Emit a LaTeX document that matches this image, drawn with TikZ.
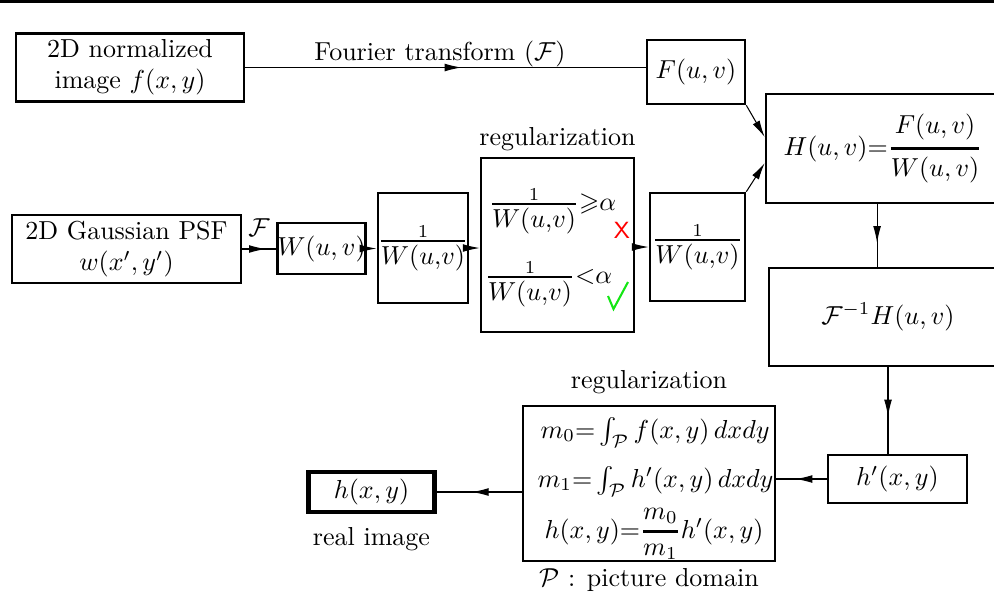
\documentclass[tikz,border=0pt]{standalone}
\usepackage{amsmath,amssymb}
\usetikzlibrary{arrows.meta,decorations.markings,calc}
\definecolor{okgreen}{RGB}{20,230,20}
\definecolor{badred}{RGB}{255,0,0}
\newdimen\px \px=0.3846pt
\newcommand{\invW}{\genfrac{}{}{0.9pt}{1}{1}{\textstyle W(u{,}v)}}
\newcommand{\bfr}[2]{\genfrac{}{}{0.9pt}{0}{#1}{#2}}
\begin{document}
\begin{tikzpicture}[x=0.3846pt,y=-0.3846pt,
  box/.style 2 args={draw,line width=1pt,inner sep=0pt,minimum width=#1\px,minimum height=#2\px},
  conn/.style={draw,line width=0.4pt},
  tipend/.style={-{Latex[length=6.5pt,width=3pt]}},
  midarrow/.style={postaction={decorate,decoration={markings,mark=at position #1 with {\arrow{Latex[length=6.5pt,width=3pt]}}}}},
  midarrow/.default=0.55,
  lab/.style={inner sep=1pt}]
\useasboundingbox (0,0) rectangle (994,597);
\clip (0,0) rectangle (994,597);
\fill (0,0) rectangle (994,3);

% top row
\node[box={228}{68},align=center] (norm) at (130,67.5) {2D normalized\\image $f(x,y)$};
\node[box={98}{64}] (F) at (696,72) {$F(u,v)$};
\node[box={234}{109}] (H) at (883,148.5) {$H(u,v){=}\bfr{F(u,v)}{W(u,v)}$};

% middle row
\node[box={229}{68},align=center] (gauss) at (126.5,249) {2D Gaussian PSF\\$w(x^{\prime},y^{\prime})$};
\node[box={87}{51}] (W) at (321.5,248.5) {$W(u,v)$};
\node[box={84}{110}] (inv1) at (423,248) {$\invW$};
\node[box={153}{174}] (reg) at (557.5,245) {};
\node[lab,anchor=south] (reglab) at ([yshift=1pt]reg.north) {regularization};
\node[anchor=base] (c1) at (552.5,210.5) {$\invW{\geqslant}\alpha$};
\node[anchor=base] (c2) at (548.5,283.5) {$\invW{<}\alpha$};
\node[inner sep=0pt,text=badred,font=\fontsize{9}{9}\selectfont\sffamily] (xmark) at (622,230) {X};
\draw[okgreen,line width=0.8pt,line join=miter] (608,296) -- (613.5,309) -- (628,282);
\node[box={95}{108}] (inv2) at (697.5,247) {$\invW$};
\node[box={238}{98}] (Finv) at (888,317) {$\mathcal{F}^{-1}H(u,v)$};

% bottom row
\node[box={139}{48}] (hp) at (897.5,479) {$h'(x,y)$};
\node[box={252}{155}] (reg2) at (649,483.5) {};
\node[lab,anchor=south] (reg2lab) at ([yshift=3pt]reg2.north) {regularization};
\node[anchor=base] (e1) at (655,438) {$m_0{=}\int_{\mathcal{P}} f(x,y)\,dxdy$};
\node[anchor=base] (e2) at (655.5,487) {$m_1{=}\int_{\mathcal{P}} h^{\prime}(x,y)\,dxdy$};
\node[anchor=base] (e3) at (654,538) {$h(x,y){=}\bfr{m_0}{m_1}h^{\prime}(x,y)$};
\node[lab,anchor=north] (pdom) at ([yshift=-1pt]reg2.south) {$\mathcal{P}$ : picture domain};
\node[draw,line width=1.8pt,inner sep=0pt,minimum width=126\px,minimum height=40\px] (h) at (371.5,492) {$h(x,y)$};
\node[lab,anchor=north] (real) at ([yshift=-3.8pt]h.south) {real image};

% connectors
\draw[conn,midarrow=0.54] (norm.east) -- (norm.east -| F.west);
\node[anchor=base] (ftlab) at (440,60) {Fourier transform ($\mathcal{F}$)};
\draw[conn,midarrow=0.7] (gauss.east) -- (gauss.east -| W.west);
\node[inner sep=0pt] (flab) at (259,228) {$\mathcal{F}$};
\draw[conn,tipend] (W.east) -- (W.east -| inv1.west);
\draw[conn,tipend] (inv1.east) -- (inv1.east -| reg.west);
\draw[conn,tipend] (inv2.west -| reg.east) -- (inv2.west);
\draw[conn,tipend] (F.south east) -- ([yshift=4.4pt]H.west);
\draw[conn,tipend] (inv2.north east) -- ([yshift=-5.6pt]H.west);
\draw[conn,midarrow=0.62] ([xshift=-4.2pt]Finv.north |- H.south) -- ([xshift=-4.2pt]Finv.north);
\draw[conn,midarrow=0.57] (Finv.south) -- (Finv.south |- hp.north);
\draw[conn,midarrow=0.62] (hp.west) -- (hp.west -| reg2.east);
\draw[conn,midarrow=0.59] (h.east -| reg2.west) -- (h.east);
\end{tikzpicture}
\end{document}
